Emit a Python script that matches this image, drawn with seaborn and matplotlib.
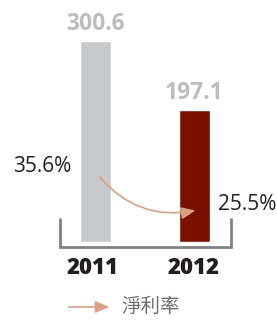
import numpy as np
import pandas as pd
import matplotlib
matplotlib.use("Agg")
import matplotlib.pyplot as plt
import seaborn as sb

# data
years = ["2011", "2012"]
profit = [300.6, 197.1]
margin_labels = ["35.6%", "25.5%"]
bar_colors = ["#c8c9cb", "#7a1100"]
legend_label = "淨利率"

df = pd.DataFrame({"year": years, "profit": profit})

sb.set_theme(style="white")
plt.rcParams["font.family"] = ["Open Sans", "Noto Sans CJK TC", "DejaVu Sans"]

W, H = 277, 322
fig = plt.figure(figsize=(W / 100, H / 100), dpi=100)
ax = fig.add_axes([0, 0, 1, 1])

# pixel mapping: bar centres at 95.5 / 194.5 px, baseline at 242 px
px_x = 99.0
px_y = 0.669

sb.barplot(data=df, x="year", y="profit", hue="year", palette=bar_colors,
           width=0.31, legend=False, ax=ax, saturation=1)
ax.set_xlim(-95.5 / px_x, (W - 95.5) / px_x)
ax.set_ylim(-(H - 242) / px_y, 242 / px_y)
ax.axis("off")

# value labels above bars
for i, v in enumerate(profit):
    ax.text(i, v + 26, f"{v:.1f}", ha="center", va="center",
            fontsize=16.5, fontweight="bold", color="#bcbdbf")

def fx(p):
    return p / W

def fy(p):
    return 1 - p / H

# bracket under bars
ax.plot([fx(60), fx(60), fx(231), fx(231)], [fy(219), fy(247), fy(247), fy(219)],
        transform=fig.transFigure, color="#808183", lw=2, solid_joinstyle="miter")

# year labels
for i, y in enumerate(years):
    fig.text(fx(93 + 101 * i), fy(268), y, ha="center", va="center",
             fontsize=16, fontweight="heavy", color="#231f20")

# margin labels + arrow
fig.text(fx(42), fy(167), margin_labels[0], ha="center", va="center",
         fontsize=15, color="#231f20")
fig.text(fx(247), fy(205), margin_labels[1], ha="center", va="center",
         fontsize=15, color="#231f20")
ax.annotate("", xy=(fx(198), fy(210)), xytext=(fx(98), fy(175)),
            xycoords="figure fraction", textcoords="figure fraction",
            arrowprops=dict(arrowstyle="-|>,head_length=0.7,head_width=0.3",
                            color="#d9a184", lw=1.2,
                            connectionstyle="arc3,rad=0.3"))

# legend
ax.annotate("", xy=(fx(112), fy(307)), xytext=(fx(66), fy(307)),
            xycoords="figure fraction", textcoords="figure fraction",
            arrowprops=dict(arrowstyle="-|>,head_length=0.7,head_width=0.3",
                            color="#d9a184", lw=1.2))
fig.text(fx(121), fy(307), legend_label, ha="left", va="center",
         fontsize=14, color="#6d6e71")

fig.savefig("out.png", dpi=100)
